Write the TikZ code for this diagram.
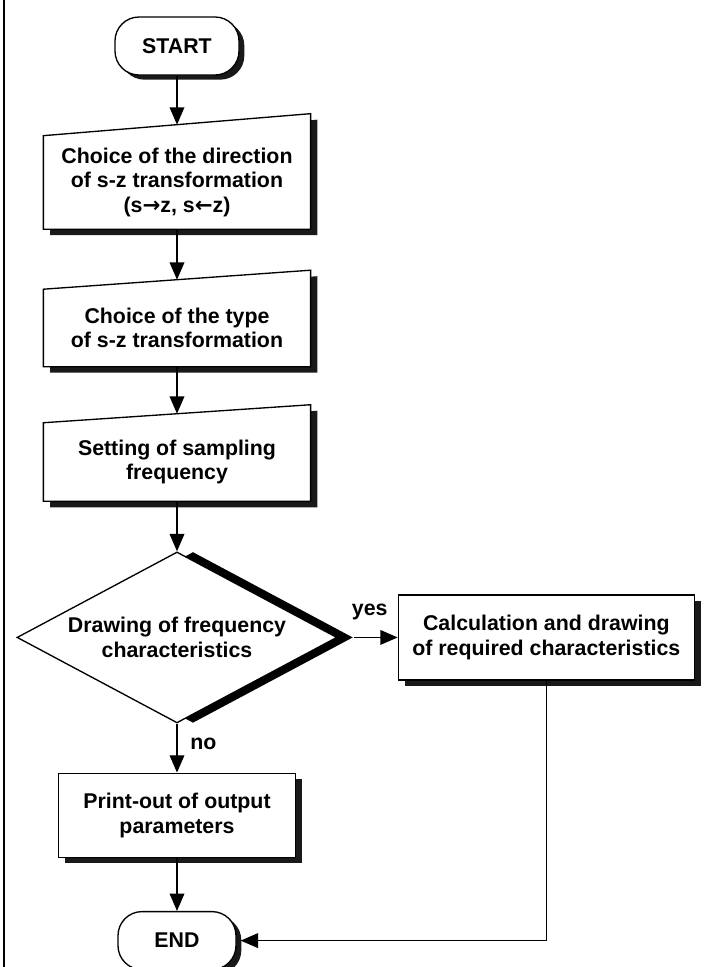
\documentclass[tikz,border=0pt]{standalone}
\usepackage{fontspec}
\setmainfont{Liberation Sans}
\newfontfamily\arrowfont{DejaVu Sans}
\usepackage{tikz}
\usetikzlibrary{shapes.geometric, arrows.meta}
\usetikzlibrary{positioning}
\usetikzlibrary{shadows}
\usetikzlibrary{backgrounds}
\tikzset{
terminal/.style={
	rectangle,
	rounded corners=18pt,
	minimum height=43.5pt,
	draw=black,
	line width=1pt,
	fill=white,
	drop shadow={shadow xshift=4pt, shadow yshift=-3.5pt, fill=black!90, opacity=1}
},
slantbox/.style={
	rectangle,
	minimum width=200pt,
	align=center,
	inner sep=2pt
},
process/.style={
	rectangle,
	align=center,
	draw=black,
	line width=1pt,
	fill=white,
	drop shadow={shadow xshift=5pt, shadow yshift=-4.5pt, fill=black!90, opacity=1}
},
decision/.style={
	diamond,
	aspect=1.87,
	minimum width=240pt,
	minimum height=128.25pt,
	inner sep=0pt,
	align=center,
	draw=black,
	line width=1pt,
	fill=white,
	drop shadow={shadow xshift=12pt, shadow yshift=0pt, fill=black, opacity=1}
},
tag/.style={
	inner sep=0pt
},
arrow/.style={
	-{Triangle[length=13pt,width=11pt]},
	line width=1pt
}
}

% outline and shadow of an input box with a slanted top
\newcommand{\slantframe}[2]{%
  \begin{scope}[on background layer]
    \fill[black!90, transform canvas={xshift=5pt, yshift=-4.5pt}]
      (#1.south west) -- (#1.north west) -- ([yshift=#2]#1.north east) -- (#1.south east) -- cycle;
    \draw[fill=white, line width=1pt]
      (#1.south west) -- (#1.north west) -- ([yshift=#2]#1.north east) -- (#1.south east) -- cycle;
  \end{scope}}

\begin{document}
\begin{tikzpicture}[
  node distance=45pt,
  font=\bfseries\fontsize{16}{18.5}\selectfont
]
\useasboundingbox (-132.75pt,34.5pt) rectangle (394.5pt,-690.75pt);

% frame line on the left
\draw[line width=2pt] (-129.75pt,34.5pt) -- (-129.75pt,-690.75pt);

\node (Start) [terminal, minimum width=93pt] {START};
\node (Direction) [slantbox, minimum height=69.75pt, below=45pt of Start] {Choice of the direction\\
  of s-z transformation\\
  (s{\arrowfont →}z, s{\arrowfont ←}z)};
\node (Type) [slantbox, minimum height=57.75pt, below=45pt of Direction] {Choice of the type\\
  of s-z transformation};
\node (Sampling) [slantbox, minimum height=58.5pt, below=42pt of Type] {Setting of sampling\\
  frequency};
\node (Drawing) [decision, below=37.5pt of Sampling] {Drawing of frequency\\
  characteristics};
\node (Calc) [process, minimum width=222pt, minimum height=63.75pt, right=45pt of Drawing] {Calculation and drawing\\
  of required characteristics};
\node (Print) [process, minimum width=177.75pt, minimum height=63pt, below=36.75pt of Drawing] {Print-out of output\\
  parameters};
\node (End) [terminal, minimum width=88.5pt, below=39.75pt of Print] {END};

% input boxes
\slantframe{Direction}{16.5pt}
\slantframe{Type}{14.25pt}
\slantframe{Sampling}{13.5pt}

% main flow
\draw[arrow] (Start.south)     -- ([yshift=8.25pt]Direction.north);
\draw[arrow] (Direction.south) -- ([yshift=7.1pt]Type.north);
\draw[arrow] (Type.south)      -- ([yshift=6.75pt]Sampling.north);
\draw[arrow] (Sampling.south)  -- (Drawing.north);
\draw[arrow] (Drawing.south)   -- (Print.north);
\draw[arrow] (Print.south)     -- (End.north);

% branch yes -> End
\draw[arrow] ([xshift=12pt]Drawing.east) -- (Calc.west);
\draw[arrow] (Calc.south) |- ([xshift=3pt]End.east);

\node (Yes) [tag, anchor=base west] at ([xshift=10.5pt, yshift=16.5pt]Drawing.east) {yes};
\node (No) [tag, anchor=base west] at ([xshift=9.75pt, yshift=-19.5pt]Drawing.south) {no};

\end{tikzpicture}
\end{document}
